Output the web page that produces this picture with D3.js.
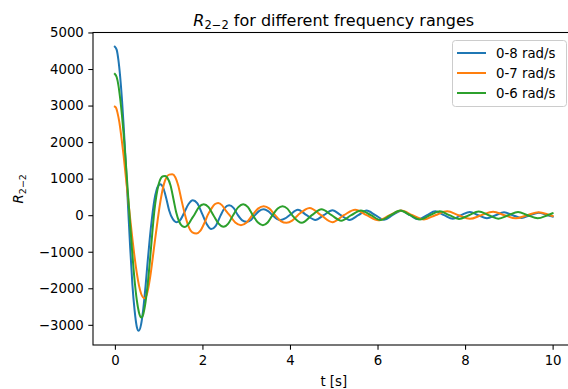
<!DOCTYPE html>
<html>
<head>
<meta charset="utf-8">
<script src="https://cdn.jsdelivr.net/npm/d3@7"></script>
<style>
  html, body { margin: 0; padding: 0; background: #fff; }
  svg { display: block; font-family: "DejaVu Sans", sans-serif; }
</style>
</head>
<body>
<svg id="chart" width="568" height="389"></svg>
<script>
// Retardation function R_{2-2}(t) for three truncated frequency ranges
const seriesNames = ["0-8 rad/s", "0-7 rad/s", "0-6 rad/s"];
const seriesColors = ["#1f77b4", "#ff7f0e", "#2ca02c"];

// [t (s), R value]
const r8 = [
  [0, 4610], [0.04, 4530], [0.08, 4250], [0.12, 3800], [0.16, 3200], [0.2, 2450], [0.25, 1400],
  [0.3, 250], [0.35, -900], [0.4, -1900], [0.45, -2600], [0.5, -3050], [0.543, -3163], [0.6, -2980],
  [0.65, -2550], [0.7, -1950], [0.75, -1250], [0.8, -600], [0.85, -50], [0.9, 400], [0.95, 680],
  [1.0, 820], [1.04, 845], [1.1, 760], [1.17, 480], [1.24, 130], [1.32, -100], [1.40, -190],
  [1.48, -150], [1.58, 60], [1.68, 300], [1.78, 410], [1.88, 330], [2.0, 20], [2.1, -250],
  [2.2, -380], [2.3, -300], [2.41, -20], [2.51, 200], [2.61, 270], [2.71, 200], [2.81, 0],
  [2.91, -140], [3.01, -180], [3.11, -130], [3.2, 0], [3.30, 120], [3.40, 160], [3.50, 110],
  [3.6, 0], [3.70, -100], [3.79, -130], [3.89, -90], [3.99, 0], [4.18, 150], [4.38, 0],
  [4.58, -130], [4.77, 0], [4.97, 135], [5.16, 0], [5.36, -130], [5.56, 0], [5.75, 125],
  [5.95, 0], [6.15, -125], [6.34, 0], [6.54, 120], [6.74, 0], [6.93, -110], [7.13, 0],
  [7.32, 105], [7.52, 0], [7.72, -100], [7.91, 0], [8.11, 90], [8.3, 0], [8.50, -85], [8.7, 0],
  [8.89, 80], [9.09, 0], [9.29, -75], [9.48, 0], [9.68, 70], [9.88, 0], [10.0, -40]
];

const r7 = [
  [0, 2970], [0.03, 2930], [0.06, 2800], [0.1, 2560], [0.15, 2120], [0.2, 1620], [0.25, 1050],
  [0.3, 480], [0.35, -100], [0.4, -650], [0.45, -1150], [0.5, -1580], [0.55, -1920], [0.6, -2150],
  [0.673, -2272], [0.72, -2200], [0.77, -1950], [0.82, -1580], [0.87, -1120], [0.92, -650],
  [0.97, -200], [1.02, 230], [1.07, 580], [1.12, 850], [1.18, 1040], [1.24, 1110], [1.31, 1118],
  [1.38, 1040], [1.45, 800], [1.52, 420], [1.6, 20], [1.68, -300], [1.77, -470], [1.86, -500],
  [1.95, -430], [2.05, -200], [2.12, 0], [2.2, 170], [2.28, 300], [2.36, 336], [2.45, 270],
  [2.53, 130], [2.62, 0], [2.75, -200], [2.88, -273], [3.01, -200], [3.14, 0], [3.27, 180],
  [3.40, 245], [3.53, 180], [3.66, 0], [3.79, -160], [3.92, -210], [4.05, -150], [4.18, 0],
  [4.45, 200], [4.71, 0], [4.97, -190], [5.23, 0], [5.49, 150], [5.75, 0], [6.02, -140],
  [6.28, 0], [6.54, 125], [6.80, 0], [7.06, -115], [7.32, 0], [7.59, 105], [7.85, 0],
  [8.11, -100], [8.37, 0], [8.64, 95], [8.90, 0], [9.16, -85], [9.42, 0], [9.68, 80],
  [9.94, 0], [10.0, -20]
];

const r6 = [
  [0, 3864], [0.04, 3780], [0.08, 3560], [0.12, 3200], [0.16, 2750], [0.2, 2220], [0.25, 1430],
  [0.3, 580], [0.35, -280], [0.4, -1080], [0.45, -1780], [0.5, -2320], [0.55, -2660], [0.605, -2800],
  [0.65, -2700], [0.7, -2380], [0.75, -1880], [0.8, -1250], [0.85, -550], [0.9, 100], [0.95, 550],
  [1.0, 850], [1.05, 1010], [1.1, 1065], [1.15, 1072], [1.2, 1020], [1.27, 820], [1.34, 430],
  [1.4, 80], [1.47, -180], [1.54, -300], [1.6, -320], [1.67, -260], [1.75, -110], [1.82, 20],
  [1.92, 220], [2.03, 300], [2.14, 220], [2.25, 0], [2.37, -230], [2.48, -318], [2.59, -230],
  [2.70, 0], [2.82, 220], [2.93, 300], [3.04, 220], [3.15, 0], [3.27, -200], [3.38, -273],
  [3.49, -200], [3.60, 0], [3.72, 180], [3.83, 245], [3.94, 180], [4.05, 0], [4.27, -210],
  [4.5, 0], [4.72, 165], [4.95, 0], [5.17, -150], [5.4, 0], [5.62, 130], [5.85, 0], [6.07, -135],
  [6.3, 0], [6.52, 125], [6.75, 0], [6.97, -120], [7.2, 0], [7.42, 110], [7.64, 0], [7.86, -105],
  [8.09, 0], [8.31, 100], [8.54, 0], [8.76, -95], [8.99, 0], [9.21, 90], [9.43, 0], [9.66, -85],
  [9.88, 0], [10.0, 55]
];

const xTicks = [0, 2, 4, 6, 8, 10];
const yTicks = [-3000, -2000, -1000, 0, 1000, 2000, 3000, 4000, 5000];
const xDomain = [-0.5, 10.5];
const yDomain = [-3552, 4999];

const series = [r8, r7, r6];

const svg = d3.select("#chart");
const plot = { left: 93, right: 574.5, top: 32.5, bottom: 345 };

const x = d3.scaleLinear().domain(xDomain).range([plot.left, plot.right]);
const y = d3.scaleLinear().domain(yDomain).range([plot.bottom, plot.top]);

svg.append("rect").attr("width", 568).attr("height", 389).attr("fill", "#fff");

svg.append("defs").append("clipPath").attr("id", "plot-clip")
  .append("rect")
  .attr("x", plot.left).attr("y", plot.top)
  .attr("width", plot.right - plot.left).attr("height", plot.bottom - plot.top);

const fmt = v => (v < 0 ? "\u2212" + Math.abs(v) : String(v));

// x axis
const xAxis = svg.append("g")
  .attr("transform", `translate(0,${plot.bottom})`)
  .call(d3.axisBottom(x).tickValues(xTicks).tickFormat(fmt).tickSize(4.7).tickPadding(5.5));
// y axis
const yAxis = svg.append("g")
  .attr("transform", `translate(${plot.left},0)`)
  .call(d3.axisLeft(y).tickValues(yTicks).tickFormat(fmt).tickSize(4.7).tickPadding(4.5));

[xAxis, yAxis].forEach(g => {
  g.select(".domain").remove();
  g.selectAll(".tick line").attr("stroke", "#000").attr("stroke-width", 1.07);
  g.selectAll(".tick text")
    .attr("fill", "#000")
    .style("font-family", "'DejaVu Sans', sans-serif")
    .style("font-size", "13.3px");
});

// data lines
const line = d3.line()
  .x(d => x(d[0]))
  .y(d => y(d[1]))
  .curve(d3.curveMonotoneX);

const lines = svg.append("g").attr("clip-path", "url(#plot-clip)");
series.forEach((s, i) => {
  lines.append("path")
    .datum(s)
    .attr("d", line)
    .attr("fill", "none")
    .attr("stroke", seriesColors[i])
    .attr("stroke-width", 2)
    .attr("stroke-linejoin", "round")
    .attr("stroke-linecap", "square");
});

// axes frame
svg.append("rect")
  .attr("x", plot.left).attr("y", plot.top)
  .attr("width", plot.right - plot.left).attr("height", plot.bottom - plot.top)
  .attr("fill", "none").attr("stroke", "#000").attr("stroke-width", 1.07);

// title
const title = svg.append("text")
  .attr("x", (plot.left + plot.right) / 2)
  .attr("y", 25.5)
  .attr("text-anchor", "middle")
  .style("font-size", "16px")
  .attr("fill", "#000");
title.append("tspan").style("font-style", "italic").text("R");
title.append("tspan").attr("dy", 3.5).style("font-size", "11.5px").text("2\u22122");
title.append("tspan").attr("dy", -3.5).text(" for different frequency ranges");

// axis labels
svg.append("text")
  .attr("x", (plot.left + plot.right) / 2)
  .attr("y", 386)
  .attr("text-anchor", "middle")
  .style("font-size", "13.3px")
  .attr("fill", "#000")
  .text("t [s]");

const ylab = svg.append("text")
  .attr("transform", `translate(23,${(plot.top + plot.bottom) / 2}) rotate(-90)`)
  .attr("text-anchor", "middle")
  .style("font-size", "13.3px")
  .attr("fill", "#000");
ylab.append("tspan").style("font-style", "italic").text("R");
ylab.append("tspan").attr("dy", 3).style("font-size", "9.5px").text("2\u22122");

// legend
const legend = svg.append("g");
legend.append("rect")
  .attr("x", 452.5).attr("y", 40.5)
  .attr("width", 114).attr("height", 66)
  .attr("rx", 3).attr("ry", 3)
  .attr("fill", "#fff").attr("fill-opacity", 0.8)
  .attr("stroke", "#ccc").attr("stroke-width", 1);
seriesNames.forEach((name, i) => {
  const cy = 53 + i * 20;
  legend.append("line")
    .attr("x1", 457).attr("x2", 486)
    .attr("y1", cy).attr("y2", cy)
    .attr("stroke", seriesColors[i]).attr("stroke-width", 2);
  legend.append("text")
    .attr("x", 496).attr("y", cy)
    .attr("dy", "0.36em")
    .style("font-size", "13.3px")
    .attr("fill", "#000")
    .text(name);
});
</script>
</body>
</html>
